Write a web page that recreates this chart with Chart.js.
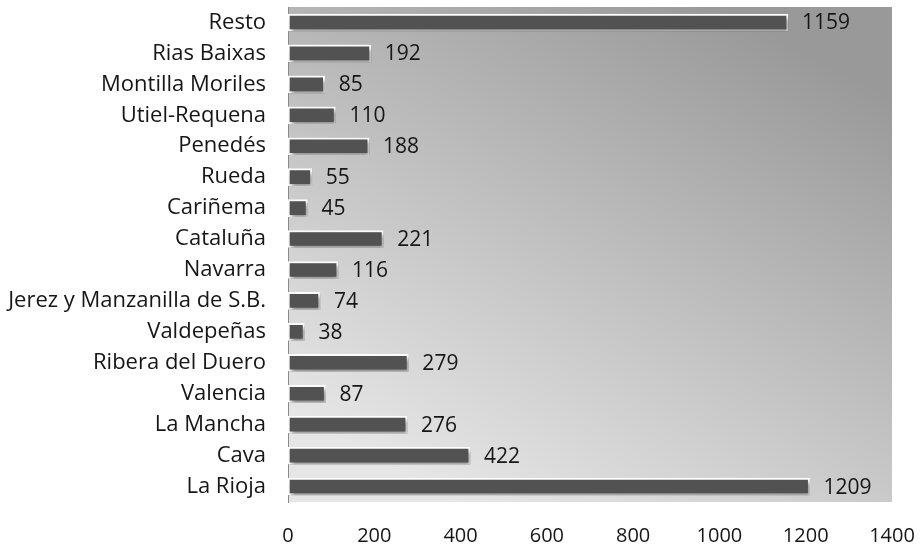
<!DOCTYPE html>
<html>
<head>
<meta charset="utf-8">
<script src="https://cdn.jsdelivr.net/npm/chart.js@4/dist/chart.umd.min.js"></script>
<style>
  html, body { margin: 0; padding: 0; background: #fff; }
</style>
</head>
<body>
<canvas id="vinos" width="921" height="550"></canvas>
<script>
const regions = [
  "Resto", "Rias Baixas", "Montilla Moriles", "Utiel-Requena", "Penedés",
  "Rueda", "Cariñema", "Cataluña", "Navarra", "Jerez y Manzanilla de S.B.",
  "Valdepeñas", "Ribera del Duero", "Valencia", "La Mancha", "Cava", "La Rioja"
];
const values = [1159, 192, 85, 110, 188, 55, 45, 221, 116, 74, 38, 279, 87, 276, 422, 1209];
const xTicks = [0, 200, 400, 600, 800, 1000, 1200, 1400];

const fontFam = "'Open Sans', sans-serif";

// fondo degradado del area del grafico
const bgPlugin = {
  id: "plotBg",
  beforeDraw(chart) {
    const { ctx, chartArea: a } = chart;
    const cx = (a.left + a.right) / 2, dx = (a.right - a.left) * 0.22;
    const g = ctx.createLinearGradient(cx - dx, a.bottom, cx + dx, a.top);
    g.addColorStop(0, "#e6e6e6");
    g.addColorStop(1, "#999999");
    ctx.save();
    ctx.fillStyle = g;
    ctx.fillRect(a.left, a.top, a.right - a.left, a.bottom - a.top);
    ctx.restore();
  }
};

// sombra de las barras
const shadowPlugin = {
  id: "barShadow",
  beforeDatasetDraw(chart) {
    const ctx = chart.ctx;
    ctx.save();
    ctx.shadowColor = "rgba(0,0,0,0.45)";
    ctx.shadowBlur = 4;
    ctx.shadowOffsetX = 2;
    ctx.shadowOffsetY = 3;
  },
  afterDatasetDraw(chart) {
    chart.ctx.restore();
  }
};

// etiquetas de valor
const labelPlugin = {
  id: "valueLabels",
  afterDatasetsDraw(chart) {
    const ctx = chart.ctx;
    const meta = chart.getDatasetMeta(0);
    ctx.save();
    ctx.font = "21px " + fontFam;
    ctx.fillStyle = "#161616";
    ctx.textBaseline = "middle";
    ctx.textAlign = "left";
    meta.data.forEach((bar, i) => {
      ctx.fillText(String(values[i]), bar.x + 14, bar.y + 1);
    });
    ctx.restore();
  }
};

new Chart(document.getElementById("vinos"), {
  type: "bar",
  data: {
    labels: regions,
    datasets: [{
      data: values,
      backgroundColor: "#525252",
      borderColor: "#ffffff",
      borderWidth: 2,
      borderSkipped: false,
      barThickness: 17
    }]
  },
  options: {
    indexAxis: "y",
    responsive: false,
    animation: false,
    layout: { padding: { top: 7, right: 29, left: 0, bottom: 0 } },
    plugins: {
      legend: { display: false },
      tooltip: { enabled: false }
    },
    scales: {
      x: {
        min: 0,
        max: 1400,
        afterBuildTicks: (s) => { s.ticks = xTicks.map(v => ({ value: v })); },
        afterFit: (s) => { s.height = 48; s.paddingLeft = 0; s.paddingRight = 0; },
        grid: { display: false, drawTicks: false },
        border: { display: false },
        ticks: { padding: 22, color: "#161616", font: { size: 20, family: fontFam }, callback: (v) => String(v) }
      },
      y: {
        afterFit: (s) => { s.width = 288; s.paddingTop = 0; s.paddingBottom = 0; },
        grid: { display: false, drawTicks: false },
        border: { display: true, color: "#8a8a8a", width: 1 },
        ticks: { padding: 22, color: "#161616", font: { size: 22, family: fontFam } }
      }
    }
  },
  plugins: [bgPlugin, shadowPlugin, labelPlugin]
});
</script>
</body>
</html>
